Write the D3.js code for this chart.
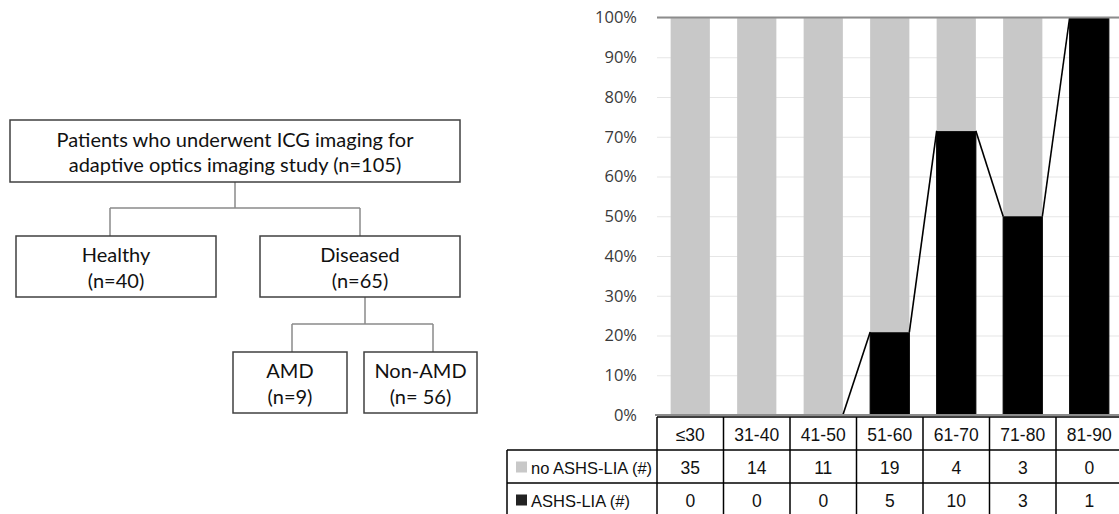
<!DOCTYPE html>
<html>
<head>
<meta charset="utf-8">
<script src="https://cdn.jsdelivr.net/npm/d3@7"></script>
<style>
  html, body { margin: 0; padding: 0; background: #fff; }
  svg { display: block; }
</style>
</head>
<body>
<svg id="chart" width="1119" height="514"></svg>
<script>
// ---------- DATA ----------
const categories = ["≤30", "31-40", "41-50", "51-60", "61-70", "71-80", "81-90"];
const noAshsCounts = [35, 14, 11, 19, 4, 3, 0];
const ashsCounts = [0, 0, 0, 5, 10, 3, 1];
const yTickValues = [0, 0.1, 0.2, 0.3, 0.4, 0.5, 0.6, 0.7, 0.8, 0.9, 1.0];
const rowLabels = ["no ASHS-LIA (#)", "ASHS-LIA (#)"];

const flowTop = ["Patients who underwent ICG imaging for", "adaptive optics imaging study (n=105)"];
const flowHealthy = ["Healthy", "(n=40)"];
const flowDiseased = ["Diseased", "(n=65)"];
const flowAMD = ["AMD", "(n=9)"];
const flowNonAMD = ["Non-AMD", "(n= 56)"];

// ---------- SETUP ----------
const svg = d3.select("#chart");
const grayColor = "#c8c8c8";
const blackColor = "#000000";

// ---------- FLOWCHART ----------
const flow = svg.append("g").attr("class", "flowchart");
const flowFont = "Lato, 'Open Sans', sans-serif";
const boxes = [
  { x0: 10, x1: 460, y0: 120, y1: 182, lines: flowTop, gap: 25 },
  { x0: 16, x1: 216, y0: 236, y1: 297, lines: flowHealthy, gap: 26 },
  { x0: 260, x1: 460, y0: 236, y1: 297, lines: flowDiseased, gap: 26 },
  { x0: 233, x1: 347, y0: 352, y1: 413, lines: flowAMD, gap: 26 },
  { x0: 364, x1: 477, y0: 352, y1: 413, lines: flowNonAMD, gap: 26 }
];
const connectors = [
  [[235, 182], [235, 208]],
  [[110, 208], [360, 208]],
  [[110, 208], [110, 236]],
  [[360, 208], [360, 236]],
  [[365, 297], [365, 324]],
  [[292, 324], [433, 324]],
  [[292, 324], [292, 352]],
  [[433, 324], [433, 352]]
];
flow.selectAll("path.conn").data(connectors).join("path")
  .attr("class", "conn")
  .attr("d", d => d3.line()(d))
  .attr("stroke", "#8a8a8a").attr("stroke-width", 1.5).attr("fill", "none");

const boxG = flow.selectAll("g.box").data(boxes).join("g").attr("class", "box");
boxG.append("rect")
  .attr("x", d => d.x0).attr("y", d => d.y0)
  .attr("width", d => d.x1 - d.x0).attr("height", d => d.y1 - d.y0)
  .attr("fill", "#fff").attr("stroke", "#404040").attr("stroke-width", 1.5);
boxG.each(function(d) {
  const cx = (d.x0 + d.x1) / 2, cy = (d.y0 + d.y1) / 2;
  d3.select(this).selectAll("text").data(d.lines).join("text")
    .attr("x", cx)
    .attr("y", (t, i) => cy + (i - (d.lines.length - 1) / 2) * d.gap)
    .attr("text-anchor", "middle")
    .attr("dominant-baseline", "central")
    .attr("font-family", flowFont)
    .attr("font-size", 20)
    .attr("fill", "#111")
    .text(t => t);
});

// ---------- BAR CHART ----------
const plotLeft = 657, plotRight = 1122.5;
const yBottom = 415, yTop = 17.5;

const x = d3.scaleBand().domain(categories)
  .range([plotLeft, plotRight]).paddingInner(0.41).paddingOuter(0.205);
const colX = d3.scaleBand().domain(categories).range([plotLeft, plotRight]).padding(0);
const y = d3.scaleLinear().domain([0, 1]).range([yBottom, yTop]);

const totals = categories.map((c, i) => noAshsCounts[i] + ashsCounts[i]);
const ashsPct = categories.map((c, i) => ashsCounts[i] / totals[i]);
const stackData = categories.map((c, i) => ({ cat: c, ashs: ashsPct[i], no: 1 - ashsPct[i] }));

// gridlines
const grid = svg.append("g").attr("class", "grid")
  .attr("transform", `translate(${plotLeft},0)`)
  .call(d3.axisLeft(y).tickValues(yTickValues).tickSize(-(1119 - plotLeft)).tickFormat(""));
grid.select(".domain").remove();
grid.selectAll(".tick line").attr("stroke", "#e6e6e6").attr("stroke-width", 1.2);

// y axis labels
const yAxis = svg.append("g").attr("class", "y-axis")
  .attr("transform", `translate(${plotLeft},0)`)
  .call(d3.axisLeft(y).tickValues(yTickValues).tickSize(0).tickPadding(20)
    .tickFormat(d3.format(".0%")));
yAxis.select(".domain").remove();
yAxis.selectAll(".tick text")
  .attr("font-family", "'Open Sans', sans-serif")
  .attr("font-size", 16.5)
  .attr("fill", "#3a3a3a");

// stacked bars
const series = d3.stack().keys(["ashs", "no"])(stackData);
const barColors = { ashs: blackColor, no: grayColor };
svg.append("g").selectAll("g").data(series).join("g")
  .attr("fill", s => barColors[s.key])
  .attr("stroke", s => s.key === "ashs" ? blackColor : "none")
  .selectAll("rect").data(s => s).join("rect")
  .attr("x", d => x(d.data.cat))
  .attr("width", x.bandwidth())
  .attr("y", d => y(d[1]))
  .attr("height", d => Math.max(0, y(d[0]) - y(d[1])));

// series lines (connect top of black series between bars)
const segs = [];
for (let i = 0; i < categories.length - 1; i++) {
  segs.push([[x(categories[i]) + x.bandwidth(), y(ashsPct[i])],
             [x(categories[i + 1]), y(ashsPct[i + 1])]]);
}
svg.append("g").selectAll("path").data(segs).join("path")
  .attr("d", d => d3.line()(d))
  .attr("stroke", blackColor).attr("stroke-width", 1.6).attr("fill", "none");

// top line at 100% and baseline
svg.append("line")
  .attr("x1", plotLeft).attr("x2", 1119)
  .attr("y1", y(1)).attr("y2", y(1))
  .attr("stroke", "#8c8c8c").attr("stroke-width", 2);
svg.append("line")
  .attr("x1", plotLeft - 2).attr("x2", 1119)
  .attr("y1", y(0)).attr("y2", y(0))
  .attr("stroke", "#8c8c8c").attr("stroke-width", 2);

// ---------- DATA TABLE ----------
const tbl = svg.append("g").attr("class", "table");
const rowTops = [417, 450, 483, 516];
const labelLeft = 507;
const tableFont = "'Liberation Sans', Arial, sans-serif";
const tableFontSize = 16.5;
const lineStyle = sel => sel.attr("stroke", "#000").attr("stroke-width", 1.5);

tbl.append("line").attr("x1", plotLeft).attr("x2", 1119).attr("y1", rowTops[0]).attr("y2", rowTops[0]).call(lineStyle);
[rowTops[1], rowTops[2], rowTops[3]].forEach(yy => {
  tbl.append("line").attr("x1", labelLeft).attr("x2", 1119).attr("y1", yy).attr("y2", yy).call(lineStyle);
});
const colEdges = categories.map(c => colX(c)).concat([colX(categories[categories.length - 1]) + colX.bandwidth()]);
tbl.selectAll("line.v").data(colEdges).join("line").attr("class", "v")
  .attr("x1", d => d).attr("x2", d => d)
  .attr("y1", rowTops[0]).attr("y2", rowTops[3]).call(lineStyle);
tbl.append("line").attr("x1", labelLeft).attr("x2", labelLeft)
  .attr("y1", rowTops[1]).attr("y2", rowTops[3]).call(lineStyle);

tbl.selectAll("text.hdr").data(categories).join("text").attr("class", "hdr")
  .attr("x", d => colX(d) + colX.bandwidth() / 2)
  .attr("y", (rowTops[0] + rowTops[1]) / 2 + 1)
  .attr("text-anchor", "middle").attr("dominant-baseline", "central")
  .attr("font-family", tableFont).attr("font-size", 17.5).attr("fill", "#111")
  .text(d => d);

const rowsData = [noAshsCounts, ashsCounts];
const rowColors = [grayColor, "#222"];
rowsData.forEach((vals, r) => {
  const cy = (rowTops[r + 1] + rowTops[r + 2]) / 2;
  tbl.selectAll(`text.r${r}`).data(vals).join("text").attr("class", `r${r}`)
    .attr("x", (d, i) => colX(categories[i]) + colX.bandwidth() / 2)
    .attr("y", cy + 1)
    .attr("text-anchor", "middle").attr("dominant-baseline", "central")
    .attr("font-family", tableFont).attr("font-size", 17.5).attr("fill", "#111")
    .text(d => d);
  tbl.append("rect").attr("x", 516).attr("y", cy - 5).attr("width", 11).attr("height", 11)
    .attr("fill", rowColors[r]);
  tbl.append("text").attr("x", 531).attr("y", cy + 1)
    .attr("dominant-baseline", "central")
    .attr("font-family", tableFont).attr("font-size", tableFontSize).attr("fill", "#111")
    .text(rowLabels[r]);
});
</script>
</body>
</html>
